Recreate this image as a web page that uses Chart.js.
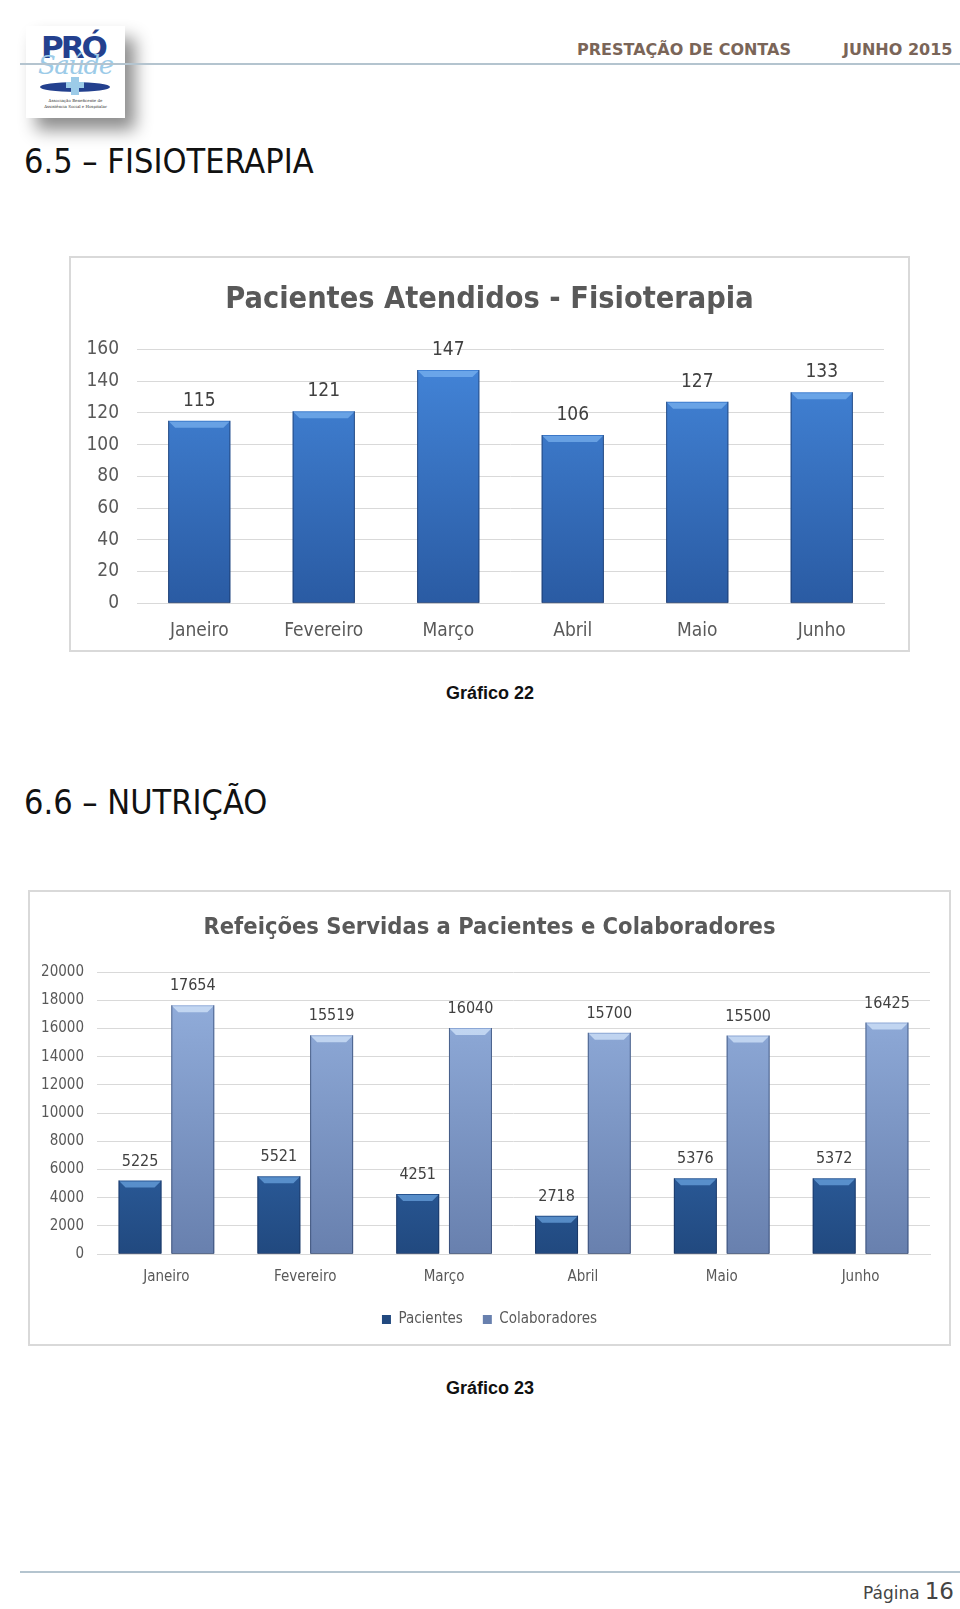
<!DOCTYPE html>
<html>
<head>
<meta charset="utf-8">
<script src="https://cdn.jsdelivr.net/npm/chart.js@4.4.1/dist/chart.umd.min.js"></script>
<style>
  html, body { margin: 0; padding: 0; background: #fff; }
  body { width: 960px; height: 1609px; position: relative; overflow: hidden; font-family: 'DejaVu Sans Condensed', 'Liberation Sans', sans-serif; }
  .abs { position: absolute; }
  .hdr { top: 40px; font-family: 'DejaVu Sans', sans-serif; font-weight: bold; font-size: 16px; color: #7a6558; white-space: nowrap; }
  .hline { left: 20px; width: 940px; height: 2px; background: #b4c4cf; }
  .sect { left: 24px; font-size: 34px; color: #111; white-space: nowrap; font-family: 'DejaVu Sans Condensed', sans-serif; }
  .cap { width: 960px; left: 10px; text-align: center; font-family: 'Liberation Sans', sans-serif; font-weight: bold; font-size: 18px; color: #111; }
  .box { border: 2px solid #d9d9d9; box-sizing: border-box; background: #fff; }
  .box canvas { display: block; }
  .logo { left: 26px; top: 26px; width: 99px; height: 92px; background: #fff; box-shadow: 10px 12px 16px rgba(0,0,0,0.45); overflow: hidden; }
</style>
</head>
<body>
<div class="abs logo">
  <div class="abs" style="left:15px;top:3px;font-family:'DejaVu Sans',sans-serif;font-weight:bold;font-size:31px;color:#23408e;letter-spacing:-3px;">PRÓ</div>
  <div class="abs" style="left:12px;top:24px;font-family:'DejaVu Serif',serif;font-style:italic;font-size:26px;color:#9ccbe8;letter-spacing:-1.5px;">Saúde</div>
  <div class="abs" style="left:14px;top:56px;width:70px;height:10px;border-radius:50%;background:#23408e;"></div>
  <div class="abs" style="left:45px;top:51px;width:8px;height:18px;background:#9ccbe8;"></div>
  <div class="abs" style="left:40px;top:56px;width:18px;height:6px;background:#9ccbe8;"></div>
  <div class="abs" style="left:6px;top:72px;width:87px;text-align:center;font-family:'DejaVu Serif',serif;font-size:4px;line-height:6px;color:#333;">Associação Beneficente de<br>Assistência Social e Hospitalar</div>
</div>

<div class="abs hdr" style="left:577px;">PRESTAÇÃO DE CONTAS</div>
<div class="abs hdr" style="left:843px;">JUNHO 2015</div>
<div class="abs hline" style="top:63px;"></div>

<div class="abs sect" style="top:141px;">6.5 – FISIOTERAPIA</div>

<div class="abs box" style="left:69px;top:256px;width:841px;height:396px;">
  <canvas id="c1" width="837" height="392"></canvas>
</div>

<div class="abs cap" style="top:683px;">Gráfico 22</div>

<div class="abs sect" style="top:782px;">6.6 – NUTRIÇÃO</div>

<div class="abs box" style="left:28px;top:890px;width:923px;height:456px;">
  <canvas id="c2" width="919" height="452"></canvas>
</div>

<div class="abs cap" style="top:1378px;">Gráfico 23</div>

<div class="abs hline" style="top:1571px;"></div>
<div class="abs" style="right:6px;top:1578px;font-family:'DejaVu Sans',sans-serif;color:#444;white-space:nowrap;"><span style="font-size:17px;">Página</span> <span style="font-size:23px;">16</span></div>

<script>
// ---------- data ----------
const months = ['Janeiro', 'Fevereiro', 'Março', 'Abril', 'Maio', 'Junho'];
const fisioValues = [115, 121, 147, 106, 127, 133];
const fisioTicks = [0, 20, 40, 60, 80, 100, 120, 140, 160];
const pacientesValues = [5225, 5521, 4251, 2718, 5376, 5372];
const colaboradoresValues = [17654, 15519, 16040, 15700, 15500, 16425];
const nutriTicks = [0, 2000, 4000, 6000, 8000, 10000, 12000, 14000, 16000, 18000, 20000];

const FONT = "'DejaVu Sans Condensed', 'Liberation Sans', sans-serif";
const TXT = '#595959';
const GRID = '#d9d9d9';

function grad(ctx, area, top, bottom) {
  const g = ctx.createLinearGradient(0, area.top, 0, area.bottom);
  g.addColorStop(0, top);
  g.addColorStop(1, bottom);
  return g;
}

const bevelPlugin = {
  id: 'bevel',
  afterDatasetsDraw(chart, args, opts) {
    const ctx = chart.ctx;
    chart.data.datasets.forEach((ds, di) => {
      const meta = chart.getDatasetMeta(di);
      const col = (opts.colors || [])[di] || 'rgba(255,255,255,0.35)';
      meta.data.forEach(bar => {
        const w = bar.width, x0 = bar.x - w / 2, x1 = bar.x + w / 2, y = bar.y;
        const h = 7;
        ctx.save();
        ctx.fillStyle = col;
        ctx.beginPath();
        ctx.moveTo(x0 + 1, y + 1);
        ctx.lineTo(x1 - 1, y + 1);
        ctx.lineTo(x1 - h, y + h);
        ctx.lineTo(x0 + h, y + h);
        ctx.closePath();
        ctx.fill();
        ctx.strokeStyle = 'rgba(20,40,80,0.55)';
        ctx.lineWidth = 1;
        ctx.beginPath();
        ctx.moveTo(x0 + 0.5, y);
        ctx.lineTo(x0 + 0.5, bar.base);
        ctx.lineTo(x1 - 0.5, bar.base);
        ctx.lineTo(x1 - 0.5, y);
        ctx.stroke();
        ctx.restore();
      });
    });
  }
};

const labelPlugin = {
  id: 'valueLabels',
  afterDatasetsDraw(chart, args, opts) {
    const ctx = chart.ctx;
    ctx.save();
    ctx.font = opts.size + 'px ' + FONT;
    ctx.fillStyle = '#404040';
    ctx.textAlign = 'center';
    ctx.textBaseline = 'middle';
    chart.data.datasets.forEach((ds, di) => {
      const meta = chart.getDatasetMeta(di);
      meta.data.forEach((bar, i) => {
        ctx.fillText(String(ds.data[i]), bar.x, bar.y - opts.offset);
      });
    });
    ctx.restore();
  }
};

// spacer axis on the right so the title stays centred on the whole canvas
function spacer(w) {
  return {
    position: 'right', display: true,
    grid: { display: false }, border: { display: false },
    ticks: { display: false },
    afterFit: (s) => { s.width = w; }
  };
}

// ---------- chart 1 ----------
new Chart(document.getElementById('c1'), {
  type: 'bar',
  data: {
    labels: months,
    datasets: [{
      label: 'Pacientes Atendidos',
      data: fisioValues,
      backgroundColor: (c) => c.chart.chartArea ? grad(c.chart.ctx, c.chart.chartArea, '#4486da', '#2a5ba3') : '#3a78c8',
      borderWidth: 0,
      categoryPercentage: 1,
      barPercentage: 0.5
    }]
  },
  options: {
    responsive: false,
    animation: false,
    events: [],
    layout: { padding: { left: 0, right: 0, bottom: 0 } },
    plugins: {
      legend: { display: false },
      tooltip: { enabled: false },
      title: {
        display: true,
        text: 'Pacientes Atendidos - Fisioterapia',
        color: TXT,
        font: { family: FONT, size: 30.4, weight: 'bold' },
        padding: { top: 24, bottom: 31 }
      },
      valueLabels: { size: 19, offset: 20 },
      bevel: { colors: ['rgba(140,195,250,0.55)'] }
    },
    scales: {
      y: {
        min: 0, max: 160,
        afterBuildTicks: (s) => { s.ticks = fisioTicks.map(v => ({ value: v })); },
        afterFit: (s) => { s.width = 66; },
        ticks: { color: TXT, font: { family: FONT, size: 19 }, padding: 18 },
        grid: { color: GRID, drawTicks: false },
        border: { display: false }
      },
      yRight: spacer(24),
      x: {
        ticks: { color: TXT, font: { family: FONT, size: 19 }, padding: 8 },
        grid: { display: false },
        border: { color: GRID }
      }
    }
  },
  plugins: [bevelPlugin, labelPlugin]
});

// ---------- chart 2 ----------
new Chart(document.getElementById('c2'), {
  type: 'bar',
  data: {
    labels: months,
    datasets: [{
      label: 'Pacientes',
      data: pacientesValues,
      backgroundColor: (c) => c.chart.chartArea ? grad(c.chart.ctx, c.chart.chartArea, '#3f80d0', '#21497f') : '#2f64a8',
      borderWidth: 0,
      categoryPercentage: 0.76,
      barPercentage: 0.815
    }, {
      label: 'Colaboradores',
      data: colaboradoresValues,
      backgroundColor: (c) => c.chart.chartArea ? grad(c.chart.ctx, c.chart.chartArea, '#95b1df', '#6880ae') : '#8aa4d4',
      borderWidth: 0,
      categoryPercentage: 0.76,
      barPercentage: 0.815
    }]
  },
  options: {
    responsive: false,
    animation: false,
    events: [],
    layout: { padding: { left: 0, right: 0, bottom: 7 } },
    plugins: {
      legend: {
        display: true,
        position: 'bottom',
        labels: { color: TXT, font: { family: FONT, size: 15 }, boxWidth: 9, boxHeight: 9, padding: 20 }
      },
      tooltip: { enabled: false },
      title: {
        display: true,
        text: 'Refeições Servidas a Pacientes e Colaboradores',
        color: TXT,
        font: { family: FONT, size: 23.5, weight: 'bold' },
        padding: { top: 22, bottom: 30 }
      },
      valueLabels: { size: 16, offset: 19 },
      bevel: { colors: ['rgba(120,180,240,0.6)', 'rgba(215,232,252,0.7)'] }
    },
    scales: {
      y: {
        min: 0, max: 20000,
        afterBuildTicks: (s) => { s.ticks = nutriTicks.map(v => ({ value: v })); },
        afterFit: (s) => { s.width = 67; },
        ticks: { color: TXT, font: { family: FONT, size: 15 }, padding: 13, callback: (v) => String(v) },
        grid: { color: GRID, drawTicks: false },
        border: { display: false }
      },
      yRight: spacer(19),
      x: {
        ticks: { color: TXT, font: { family: FONT, size: 15 }, padding: 6 },
        grid: { display: false },
        border: { color: GRID }
      }
    }
  },
  plugins: [bevelPlugin, labelPlugin]
});
</script>
</body>
</html>
